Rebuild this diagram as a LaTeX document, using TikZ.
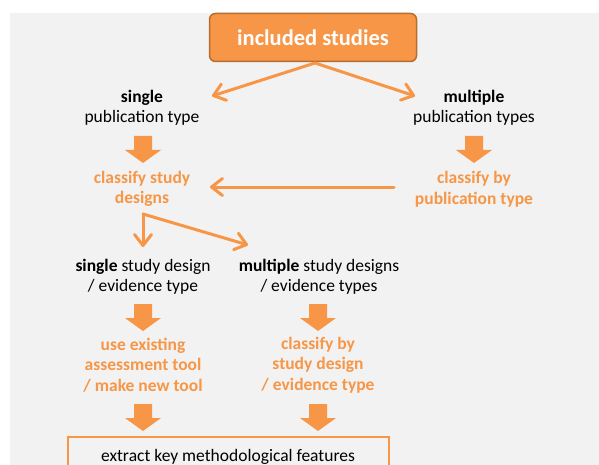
\documentclass[tikz,border=0pt]{standalone}
\usepackage{fontspec}
\setmainfont{Carlito}
\usetikzlibrary{arrows.meta}
\definecolor{accent}{HTML}{F79646}
\definecolor{accentdark}{HTML}{B66D31}
\definecolor{panel}{HTML}{F2F2F2}

\begin{document}
\begin{tikzpicture}[x=1pt,y=-1pt,
  every node/.style={font=\fontsize{17.5}{20}\selectfont, align=center, inner sep=0pt, text=black},
  act/.style={text=accent, font=\fontsize{17.5}{20.5}\selectfont\bfseries},
  titlebox/.style={draw=accentdark, fill=accent, line width=1.5pt, rounded corners=6pt,
    minimum width=207pt, minimum height=48pt, text=white, font=\fontsize{22.5}{26}\selectfont\bfseries},
  flow/.style={draw=accent, line width=3pt, line cap=round, line join=round,
    -{Straight Barb[length=11pt, width=17pt, line cap=round, line join=round]}},
  fatdown/.pic={\fill[accent] (-9,0) -- (9,0) -- (9,14) -- (18,14) -- (0,27) -- (-18,14) -- (-9,14) -- cycle;}
]
\useasboundingbox (0,0) rectangle (599,465);
\fill[white] (0,0) rectangle (599,465);
\fill[panel] (10,13) rectangle (599,465);

% boxes and labels
\node[titlebox] (inc) at (313,37.5) {included studies};
\node (pubS) at (142,108) {\textbf{single}\\publication type};
\node (pubM) at (474,108) {\textbf{multiple}\\publication types};
\node[act] (clsD) at (142,189) {classify study\\designs};
\node[act] (clsP) at (474,189) {classify by\\publication type};
\node (sdS) at (143,277) {\textbf{single} study design\\/ evidence type};
\node (sdM) at (319,277) {\textbf{multiple} study designs\\/ evidence types};
\node[act] (tool) at (143,365) {use existing\\assessment tool\\/ make new tool};
\node[act] (clsE) at (318,365) {classify by\\study design\\/ evidence type};
\node (extract) at (228,457) {extract key methodological features};
\draw[accent, line width=2pt] (68,468) -- (68,437) -- (389,437) -- (389,468);

% connector end points
\coordinate (incOut) at (315,63);
\coordinate (pubSin) at (212,96);
\coordinate (pubMin) at (415,96);
\coordinate (clsPout) at (394,187);
\coordinate (clsDin) at (210,187);
\coordinate (split) at (143,214);
\coordinate (sdSin) at (143,247);
\coordinate (sdMin) at (248,245);

\draw[flow] (incOut) -- (pubSin);
\draw[flow] (incOut) -- (pubMin);
\draw[flow] (clsPout) -- (clsDin);
\draw[flow] (split) -- (sdSin);
\draw[flow] (split) -- (sdMin);

% block arrows
\pic at (143,136) {fatdown};
\pic at (474,136) {fatdown};
\pic at (143,304) {fatdown};
\pic at (318,304) {fatdown};
\pic at (143,404) {fatdown};
\pic at (318,404) {fatdown};
\end{tikzpicture}
\end{document}
